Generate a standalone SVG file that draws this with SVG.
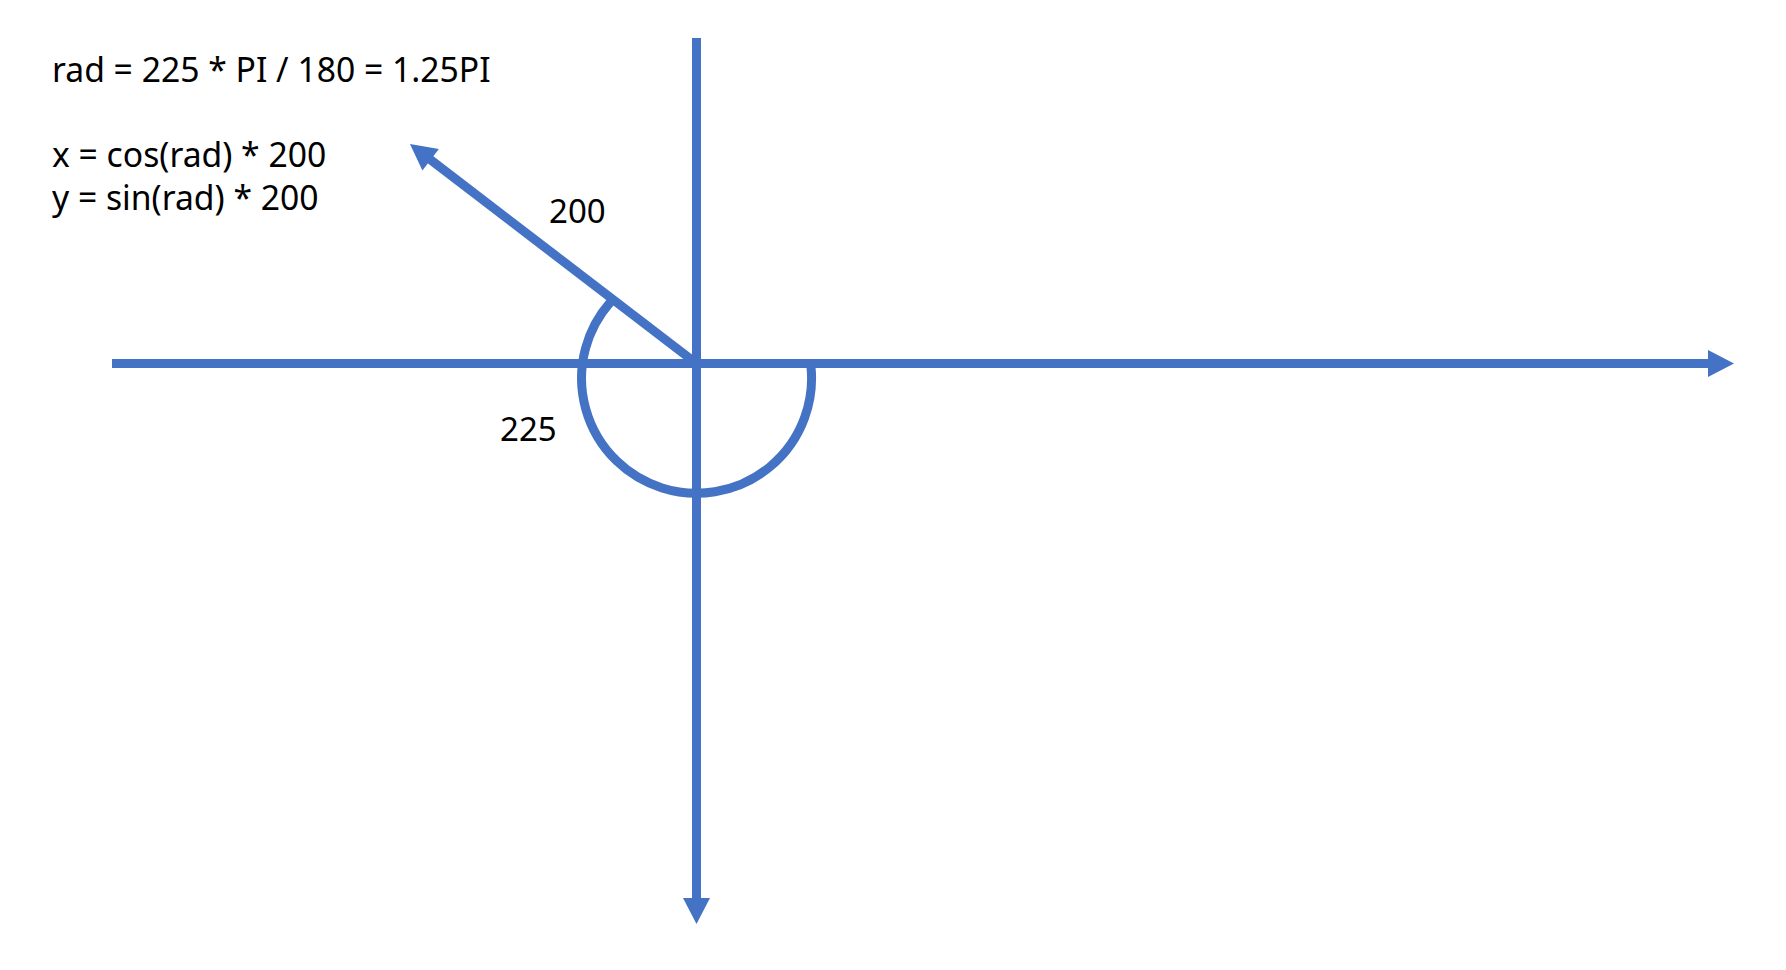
<svg xmlns="http://www.w3.org/2000/svg" width="1786" height="970" viewBox="0 0 1786 970">
<style>
.ax{stroke:#4472C4;stroke-width:9;fill:none}
.t{font-family:"Noto Sans","DejaVu Sans",sans-serif;font-size:33px;fill:#000}
.f{font-size:33.7px}
</style>
<defs>
<marker id="ah" markerUnits="userSpaceOnUse" markerWidth="26" markerHeight="27" refX="2" refY="13.5" orient="auto" overflow="visible">
<path d="M0,0 L26,13.5 L0,27 Z" fill="#4472C4"/>
</marker>
</defs>
<rect width="1786" height="970" fill="#fff"/>
<g id="connectors">
<line id="x-axis" class="ax" x1="112" y1="363.5" x2="1710" y2="363.5" marker-end="url(#ah)"/>
<line id="y-axis" class="ax" x1="696.5" y1="38" x2="696.5" y2="900" marker-end="url(#ah)"/>
<line id="vector" class="ax" x1="696.5" y1="363.5" x2="429.05" y2="158.6" marker-end="url(#ah)"/>
<path id="angle-arc" class="ax" d="M 610.5 302 A 115 115 0 1 0 810.8 365"/>
</g>
<g id="formula">
<text class="t f" x="52" y="82">rad = 225 * PI / 180 = 1.25PI</text>
<text class="t f" x="52" y="167">x = cos(rad) * 200</text>
<text class="t f" x="52" y="210">y = sin(rad) * 200</text>
</g>
<g id="label-200"><text class="t" x="549" y="223">200</text></g>
<g id="label-225"><text class="t" x="500" y="441">225</text></g>
</svg>
